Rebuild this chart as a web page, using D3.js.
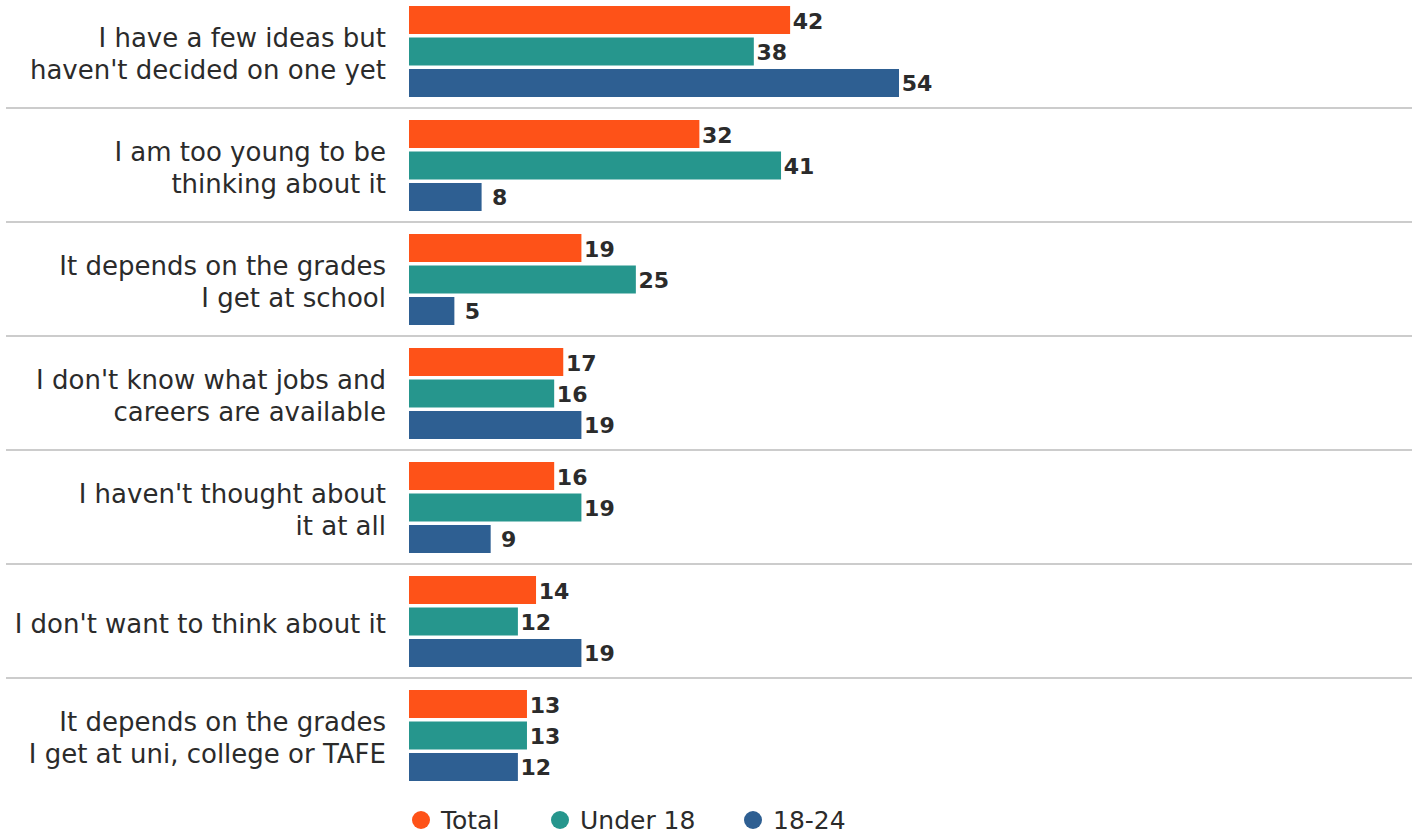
<!DOCTYPE html>
<html>
<head>
<meta charset="utf-8">
<script src="https://cdn.jsdelivr.net/npm/d3@7"></script>
<style>
  html, body { margin: 0; padding: 0; background: #fff; }
  svg { display: block; font-family: "DejaVu Sans", sans-serif; }
</style>
</head>
<body>
<svg id="chart" width="1416" height="834"></svg>
<script>
// Reasons given, one row per answer (line breaks mark label wrapping)
const categories = [
  "I have a few ideas but\nhaven't decided on one yet",
  "I am too young to be\nthinking about it",
  "It depends on the grades\nI get at school",
  "I don't know what jobs and\ncareers are available",
  "I haven't thought about\nit at all",
  "I don't want to think about it",
  "It depends on the grades\nI get at uni, college or TAFE"
];
const seriesNames = ["Total", "Under 18", "18-24"];
const totalValues = [42, 32, 19, 17, 16, 14, 13];
const under18Values = [38, 41, 25, 16, 19, 12, 13];
const age18to24Values = [54, 8, 5, 19, 9, 19, 12];
const seriesColors = ["#FE5218", "#26968D", "#2E5F92"];

const seriesValues = [totalValues, under18Values, age18to24Values];
const rows = categories.map((c, i) => ({
  category: c,
  values: seriesNames.map((s, j) => ({ series: s, value: seriesValues[j][i] }))
}));

const svg = d3.select("#chart");
const textColor = "#2b2b2b";

const x = d3.scaleLinear().domain([0, 54]).range([409, 899]);
const y = d3.scaleBand().domain(categories).range([-6, 792]).padding(0);
const yInner = d3.scaleBand().domain(seriesNames).range([12, 103]).paddingInner(0.111).paddingOuter(0);
const color = d3.scaleOrdinal().domain(seriesNames).range(seriesColors);

// Separators between rows
svg.append("g")
  .selectAll("line")
  .data(categories.slice(1))
  .join("line")
  .attr("x1", 6).attr("x2", 1412)
  .attr("y1", d => y(d)).attr("y2", d => y(d))
  .attr("stroke", "#cccccc")
  .attr("stroke-width", 2);

const groups = svg.append("g")
  .selectAll("g")
  .data(rows)
  .join("g")
  .attr("transform", d => `translate(0,${y(d.category)})`);

groups.selectAll("rect")
  .data(d => d.values)
  .join("rect")
  .attr("x", x(0))
  .attr("y", d => yInner(d.series))
  .attr("width", d => x(d.value) - x(0))
  .attr("height", yInner.bandwidth())
  .attr("fill", d => color(d.series));

groups.selectAll("text.value")
  .data(d => d.values)
  .join("text")
  .attr("class", "value")
  .attr("x", d => x(d.value) + 18)
  .attr("y", d => yInner(d.series) + yInner.bandwidth() / 2 + 1)
  .attr("text-anchor", "middle")
  .attr("dominant-baseline", "central")
  .attr("font-size", 22)
  .attr("font-weight", "bold")
  .attr("fill", textColor)
  .text(d => d.value);

// Category labels, right-aligned against the bars
groups.append("text")
  .attr("text-anchor", "end")
  .attr("font-size", 26)
  .attr("fill", textColor)
  .each(function (d) {
    const lines = d.category.split("\n");
    const cy = y.bandwidth() / 2 + 3;
    const lh = 32;
    d3.select(this).selectAll("tspan")
      .data(lines)
      .join("tspan")
      .attr("x", 386)
      .attr("y", (l, k) => cy + (k - (lines.length - 1) / 2) * lh)
      .attr("dominant-baseline", "central")
      .text(l => l);
  });

// Legend
const legendX = [421, 560, 753];
const legend = svg.append("g")
  .selectAll("g")
  .data(seriesNames)
  .join("g")
  .attr("transform", (d, i) => `translate(${legendX[i]},820)`);
legend.append("circle").attr("r", 9).attr("fill", d => color(d));
legend.append("text")
  .attr("x", 20)
  .attr("dominant-baseline", "central")
  .attr("font-size", 25)
  .attr("fill", textColor)
  .text(d => d);
</script>
</body>
</html>
